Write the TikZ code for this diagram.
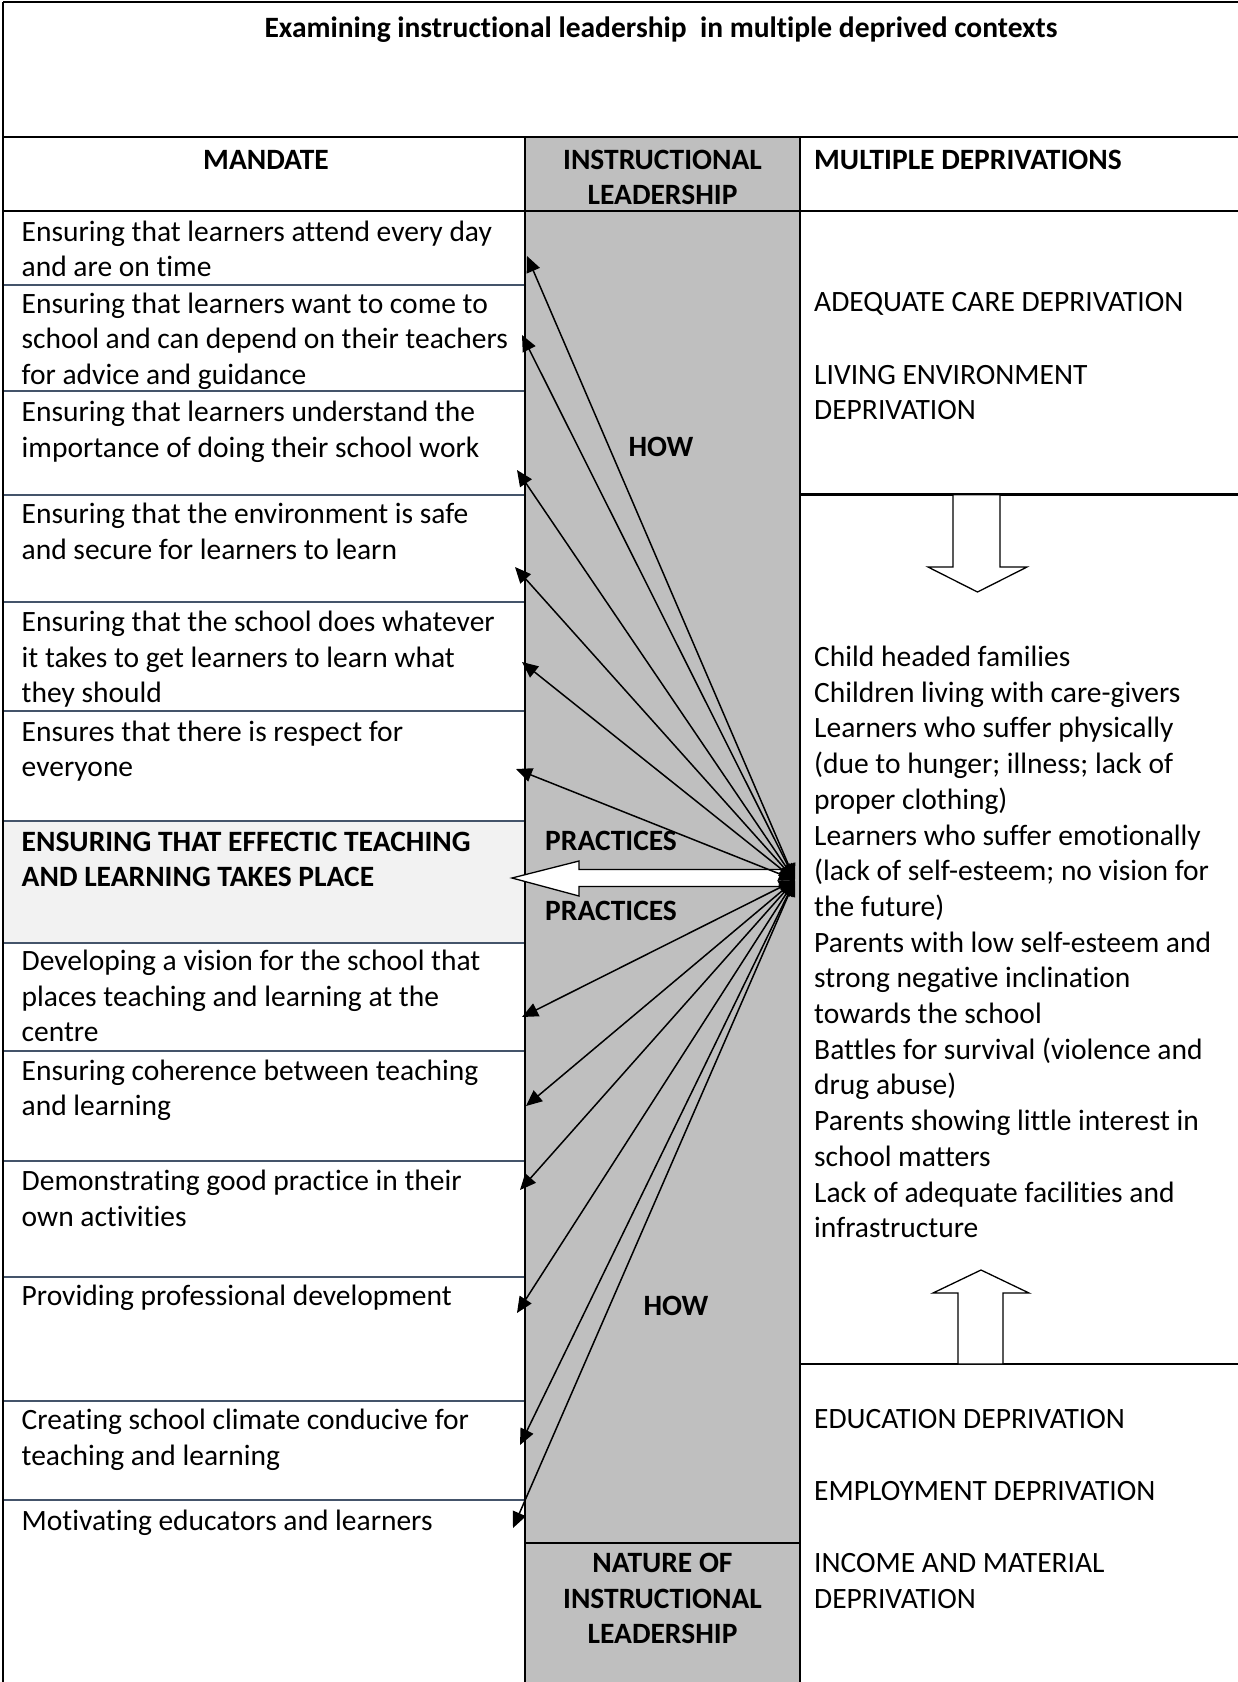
\documentclass[tikz,border=0pt]{standalone}
\usepackage{fontspec}
\setmainfont{Carlito}[Ligatures=CommonOff]
\usetikzlibrary{arrows.meta}
\definecolor{colgray}{HTML}{BFBFBF}
\definecolor{rowfill}{HTML}{F2F2F2}
\definecolor{rowline}{HTML}{44546A}
\newcommand{\mlL}[1]{\vtop{\baselineskip=35.7pt\lineskiplimit=-100pt\halign{##\hfil\cr#1\crcr}}}
\newcommand{\mlC}[1]{\vtop{\baselineskip=35.7pt\lineskiplimit=-100pt\halign{\hfil##\hfil\cr#1\crcr}}}
\tikzset{
  txt/.style={inner sep=0pt, anchor=base west, font=\fontsize{29.5}{35.7}\selectfont},
  ctxt/.style={inner sep=0pt, anchor=base, font=\fontsize{29.5}{35.7}\selectfont},
  btxt/.style={txt, font=\fontsize{29.5}{35.7}\selectfont\bfseries},
  bctxt/.style={ctxt, font=\fontsize{29.5}{35.7}\selectfont\bfseries},
  heavy/.style={line width=2.6pt, black},
  rowsep/.style={line width=2pt, rowline},
  link/.style={line width=1.5pt, black, {Triangle[length=16pt,width=14pt]}-{Triangle[length=16pt,width=14pt]}},
  blockarrow/.style={fill=white, draw=black, line width=1.3pt, line join=miter}
}
\begin{document}
\begin{tikzpicture}[x=1pt,y=-1pt]
\useasboundingbox (0,0) rectangle (1238,1682);
% fills
\fill[colgray] (525,137) rectangle (800,1682);
\fill[rowfill] (3,821) rectangle (525,943);
% row separators (left column)
\foreach \yy in {284.5,391,494.6,602,711,821,943,1051,1161,1277,1401,1500}
  \draw[rowsep] (3,\yy) -- (525,\yy);
% heavy lines
\draw[heavy] (3,2) -- (1238,2);
\draw[heavy] (3,2) -- (3,1682);
\draw[heavy] (3,137) -- (1238,137);
\draw[heavy] (3,211) -- (1238,211);
\draw[heavy] (525,137) -- (525,1682);
\draw[heavy] (800,137) -- (800,1682);
\draw[heavy] (525,1543) -- (800,1543);
\draw[heavy] (800,494.6) -- (1238,494.6);
\draw[heavy] (800,1364) -- (1238,1364);

% title and headers
\node[bctxt] (title) at (661,37.5) {Examining instructional leadership\ \ in multiple deprived contexts};
\node[bctxt] (hmandate) at (266,169) {MANDATE};
\node[bctxt] (hil) at (662.5,169) {\mlC{INSTRUCTIONAL\cr LEADERSHIP}};
\node[btxt] (hmd) at (814,169) {MULTIPLE DEPRIVATIONS};

% left column
\node[txt] (r1) at (21.5,241) {\mlL{Ensuring that learners attend every day\cr and are on time}};
\node[txt] (r2) at (21.5,313) {\mlL{Ensuring that learners want to come to\cr school and can depend on their teachers\cr for advice and guidance}};
\node[txt] (r3) at (21.5,421.5) {\mlL{Ensuring that learners understand the\cr importance of doing their school work}};
\node[txt] (r4) at (21.5,523.5) {\mlL{Ensuring that the environment is safe\cr and secure for learners to learn}};
\node[txt] (r5) at (21.5,631.5) {\mlL{Ensuring that the school does whatever\cr it takes to get learners to learn what\cr they should}};
\node[txt] (r6) at (21.5,741) {\mlL{Ensures that there is respect for\cr everyone}};
\node[btxt] (r7) at (21.5,851) {\mlL{ENSURING THAT EFFECTIC TEACHING\cr AND LEARNING TAKES PLACE}};
\node[txt] (r8) at (21.5,970.5) {\mlL{Developing a vision for the school that\cr places teaching and learning at the\cr centre}};
\node[txt] (r9) at (21.5,1080) {\mlL{Ensuring coherence between teaching\cr and learning}};
\node[txt] (r10) at (21.5,1190.5) {\mlL{Demonstrating good practice in their\cr own activities}};
\node[txt] (r11) at (21.5,1305.5) {Providing professional development};
\node[txt] (r12) at (21.5,1429.5) {\mlL{Creating school climate conducive for\cr teaching and learning}};
\node[txt] (r13) at (21.5,1530.5) {Motivating educators and learners};

% middle column
\node[bctxt] (how1) at (661,456) {HOW};
\node[bctxt] (how2) at (676,1315) {HOW};
\node[btxt] (prac1) at (545,850.5) {PRACTICES};
\node[btxt] (prac2) at (545,920.5) {PRACTICES};
\node[bctxt] (nature) at (662.5,1572.5) {\mlC{NATURE OF\cr INSTRUCTIONAL\cr LEADERSHIP}};

% right column
\node[txt] (adq) at (814,311) {ADEQUATE CARE DEPRIVATION};
\node[txt] (liv) at (814,384) {\mlL{LIVING ENVIRONMENT\cr DEPRIVATION}};
\node[txt] (list) at (814,666.5) {\mlL{Child headed families\cr
Children living with care-givers\cr
Learners who suffer physically\cr
(due to hunger; illness; lack of\cr
proper clothing)\cr
Learners who suffer emotionally\cr
(lack of self-esteem; no vision for\cr
the future)\cr
Parents with low self-esteem and\cr
strong negative inclination\cr
towards the school\cr
Battles for survival (violence and\cr
drug abuse)\cr
Parents showing little interest in\cr
school matters\cr
Lack of adequate facilities and\cr
infrastructure}};
\node[txt] (edu) at (814,1428.5) {EDUCATION DEPRIVATION};
\node[txt] (emp) at (814,1500.5) {EMPLOYMENT DEPRIVATION};
\node[txt] (inc) at (814,1572.5) {\mlL{INCOME AND MATERIAL\cr DEPRIVATION}};

% block arrows in right column
\draw[blockarrow] (953,494.6) -- (1000,494.6) -- (1000,567) -- (1027,567) -- (977.5,592) -- (928,567) -- (953,567) -- cycle;
\draw[blockarrow] (958,1364) -- (1003,1364) -- (1003,1293) -- (1029,1293) -- (981,1270) -- (933,1293) -- (958,1293) -- cycle;

% big white arrow
\draw[blockarrow] (512,878) -- (579,861) -- (579,869.5) -- (782,869.5) -- (782,886.5) -- (579,886.5) -- (579,896) -- cycle;

% hub and arrow tips
\coordinate (hub) at (795,880);
\coordinate (t1) at (527,256);
\coordinate (t2) at (522,335);
\coordinate (t3) at (517,470);
\coordinate (t4) at (515,567);
\coordinate (t5) at (522,662);
\coordinate (t6) at (516,769);
\coordinate (t8) at (522,1017);
\coordinate (t9) at (526,1106);
\coordinate (t10) at (520,1190);
\coordinate (t11) at (517,1313);
\coordinate (t12) at (520,1445);
\coordinate (t13) at (513,1528);
\foreach \t in {t1,t2,t3,t4,t5,t6,t8,t9,t10,t11,t12,t13}
  \draw[link] (hub) -- (\t);
\end{tikzpicture}
\end{document}
